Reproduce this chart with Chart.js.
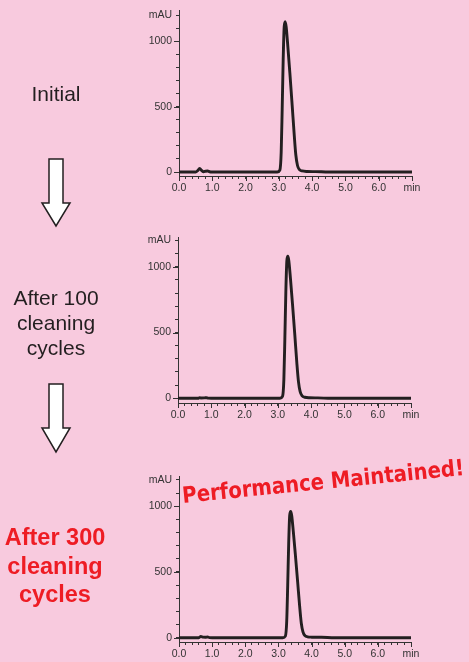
<!DOCTYPE html>
<html><head><meta charset="utf-8">
<script src="https://cdn.jsdelivr.net/npm/chart.js@4/dist/chart.umd.min.js"></script>
<style>
html,body{margin:0;padding:0;background:#f8cade;width:469px;height:662px;overflow:hidden;position:relative;}
canvas{position:absolute;}
svg{position:absolute;left:0;top:0;pointer-events:none;}
</style></head><body>
<canvas id="c1" width="329" height="200" style="left:140px;top:0px"></canvas>
<canvas id="c2" width="329" height="200" style="left:140px;top:226px"></canvas>
<canvas id="c3" width="329" height="196" style="left:140px;top:466px"></canvas>
<svg width="469" height="662" xmlns="http://www.w3.org/2000/svg">
  <g font-family="'Liberation Sans', Arial, sans-serif" text-anchor="middle">
    <text x="56" y="101" font-size="21" fill="#231f20">Initial</text>
    <text x="56" y="304.5" font-size="21" fill="#231f20">After 100</text>
    <text x="56" y="330" font-size="21" fill="#231f20">cleaning</text>
    <text x="56" y="354.5" font-size="21" fill="#231f20">cycles</text>
    <text x="55" y="545" font-size="23.5" font-weight="bold" fill="#ee1c24">After 300</text>
    <text x="55" y="574" font-size="23.5" font-weight="bold" fill="#ee1c24">cleaning</text>
    <text x="55" y="602" font-size="23.5" font-weight="bold" fill="#ee1c24">cycles</text>
  </g>
  <polygon points="49,159 63,159 63,203 70,203 56,226 42,203 49,203" fill="#ffffff" stroke="#231f20" stroke-width="1.5" stroke-linejoin="miter"/>
  <polygon points="49,384 63,384 63,428 70,428 56,452 42,428 49,428" fill="#ffffff" stroke="#231f20" stroke-width="1.5" stroke-linejoin="miter"/>
  <text x="183" y="503" transform="rotate(-5.7 183 503)" font-family="'DejaVu Sans', sans-serif" font-weight="bold" font-size="22.5" fill="#ee1c24" textLength="283" lengthAdjust="spacingAndGlyphs">Performance Maintained!</text>
</svg>
<script>
// ---- data ----
const times1  = [0, 0.5, 0.56, 0.62, 0.68, 0.74, 0.8, 0.86, 0.92, 1.0, 2.0, 2.95, 3.03, 3.07, 3.10, 3.13, 3.16, 3.19, 3.22, 3.27, 3.33, 3.40, 3.46, 3.51, 3.56, 3.62, 3.70, 3.85, 4.1, 4.5, 7.0];
const signal1 = [0, 0, 10, 27, 12, 2, 6, 8, 2, 0, 0, 0, 15, 150, 480, 860, 1110, 1150, 1110, 960, 760, 510, 290, 130, 50, 18, 8, 4, 3, 0, 0];

const times2  = [0, 0.6, 0.65, 0.7, 0.8, 0.85, 0.9, 1.0, 2.0, 3.06, 3.14, 3.18, 3.21, 3.24, 3.27, 3.30, 3.33, 3.38, 3.44, 3.51, 3.57, 3.62, 3.67, 3.73, 3.81, 3.95, 4.2, 4.6, 7.0];
const signal2 = [0, 0, 5, 2, 3, 5, 1, 0, 0, 0, 14, 140, 450, 810, 1045, 1080, 1045, 905, 715, 480, 270, 125, 50, 18, 8, 4, 3, 0, 0];

const times3  = [0, 0.6, 0.66, 0.72, 0.8, 0.86, 0.92, 1.0, 2.0, 3.13, 3.21, 3.25, 3.28, 3.31, 3.34, 3.37, 3.40, 3.45, 3.51, 3.58, 3.64, 3.69, 3.74, 3.80, 3.88, 4.0, 4.3, 4.7, 7.0];
const signal3 = [0, 0, 10, 4, 3, 6, 1, 0, 0, 0, 12, 125, 400, 720, 930, 960, 930, 805, 635, 425, 240, 110, 45, 16, 7, 4, 3, 0, 0];

const xTickValues  = [0,0.2,0.4,0.6,0.8,1,1.2,1.4,1.6,1.8,2,2.2,2.4,2.6,2.8,3,3.2,3.4,3.6,3.8,4,4.2,4.4,4.6,4.8,5,5.2,5.4,5.6,5.8,6,6.2,6.4,6.6,6.8,7];
const xMajorValues = [0, 1, 2, 3, 4, 5, 6, 7];
const xMajorLabels = ['0.0', '1.0', '2.0', '3.0', '4.0', '5.0', '6.0', 'min'];
const yTickValues  = [0, 100, 200, 300, 400, 500, 600, 700, 800, 900, 1000, 1100, 1200];
const yLabelValues = [0, 500, 1000, 1200];
const yLabelTexts  = ['0', '500', '1000', 'mAU'];
const yMajorValues = [0, 500, 1000];

// ---- styling ----
const ink = '#231f20';
const axisInk = '#333333';
Chart.defaults.font.family = "'Liberation Sans', Arial, sans-serif";
Chart.defaults.font.size = 10.5;
Chart.defaults.color = '#333333';

const majorTicks = {
  id: 'majorTicks',
  afterDraw(chart) {
    const ctx = chart.ctx, xs = chart.scales.x, ys = chart.scales.y;
    ctx.save();
    ctx.strokeStyle = axisInk; ctx.lineWidth = 1;
    ctx.beginPath();
    xMajorValues.forEach(v => {
      const px = Math.round(xs.getPixelForValue(v)) + 0.5;
      ctx.moveTo(px, xs.top); ctx.lineTo(px, xs.top + 5);
    });
    yMajorValues.forEach(v => {
      const py = Math.round(ys.getPixelForValue(v)) + 0.5;
      ctx.moveTo(ys.right, py); ctx.lineTo(ys.right - 5, py);
    });
    ctx.stroke();
    ctx.restore();
  }
};

function makeChart(id, times, signal, lay) {
  const pts = times.map((t, i) => ({ x: t, y: signal[i] }));
  return new Chart(document.getElementById(id), {
    type: 'line',
    data: { datasets: [{
      data: pts, borderColor: ink, borderWidth: 2.9, pointRadius: 0,
      cubicInterpolationMode: 'monotone', fill: false
    }]},
    options: {
      responsive: false, animation: false, devicePixelRatio: 1,
      layout: { padding: { top: lay.padTop, right: lay.padRight, left: 0, bottom: 0 } },
      plugins: { legend: { display: false }, tooltip: { enabled: false } },
      scales: {
        x: {
          type: 'linear', min: 0, max: 7,
          afterBuildTicks: s => { s.ticks = xTickValues.map(v => ({ value: v })); },
          afterFit: s => { s.height = lay.xHeight; },
          grid: { drawOnChartArea: false, drawTicks: true, tickLength: 3, color: axisInk },
          border: { display: true, color: axisInk, width: 1 },
          ticks: {
            autoSkip: false, maxRotation: 0, padding: 3,
            callback: v => { const k = xMajorValues.findIndex(m => Math.abs(m - v) < 1e-6); return k >= 0 ? xMajorLabels[k] : ''; }
          }
        },
        y: {
          type: 'linear', min: lay.yMin, max: lay.yMax,
          afterBuildTicks: s => { s.ticks = yTickValues.map(v => ({ value: v })); },
          afterFit: s => { s.width = lay.yWidth; },
          grid: { drawOnChartArea: false, drawTicks: true, tickLength: 3, color: axisInk },
          border: { display: true, color: axisInk, width: 1 },
          ticks: {
            autoSkip: false, padding: 4,
            callback: v => { const k = yLabelValues.indexOf(v); return k >= 0 ? yLabelTexts[k] : ''; }
          }
        }
      }
    },
    plugins: [majorTicks]
  });
}

makeChart('c1', times1, signal1, { padTop: 10, padRight: 57, yWidth: 39, xHeight: 24, yMin: -30.5, yMax: 1237 });
makeChart('c2', times2, signal2, { padTop: 11, padRight: 58, yWidth: 38, xHeight: 23, yMin: -35.7, yMax: 1226 });
makeChart('c3', times3, signal3, { padTop: 10, padRight: 58, yWidth: 39, xHeight: 20, yMin: -32.6, yMax: 1228 });
</script>
</body></html>
